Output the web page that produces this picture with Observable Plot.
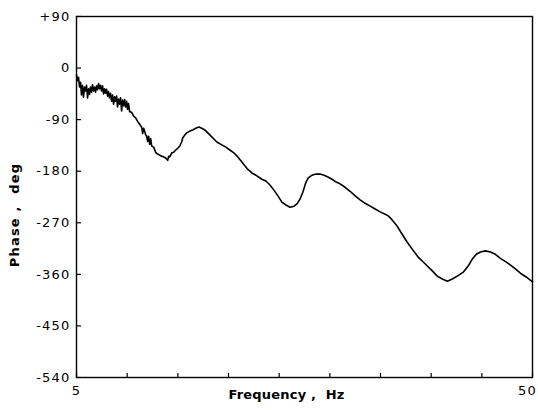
<!DOCTYPE html>
<html>
<head>
<meta charset="utf-8">
<script src="https://cdn.jsdelivr.net/npm/d3@7"></script>
<script src="https://cdn.jsdelivr.net/npm/@observablehq/plot@0.6"></script>
<style>
  html, body { margin: 0; padding: 0; background: #fff; }
  svg text { letter-spacing: 1.2px; }
  svg text.xt { letter-spacing: 0.2px; }
</style>
</head>
<body>
<div id="chart"></div>
<script>
const freqHz = [
  5.00,5.10,5.20,5.30,5.40,5.49,5.59,5.69,5.79,5.89,5.99,6.09,6.19,6.29,6.38,6.48,6.58,6.68,6.78,6.88,
  6.98,7.08,7.18,7.27,7.37,7.47,7.57,7.67,7.77,7.87,7.97,8.07,8.16,8.26,8.36,8.46,8.56,8.66,8.76,8.86,
  8.96,9.05,9.15,9.25,9.35,9.45,9.55,9.65,9.75,9.85,9.95,10.04,10.14,10.24,
  10.44,10.64,10.84,11.03,11.23,11.43,11.53,11.63,11.82,11.92,12.02,12.12,12.22,12.32,12.42,12.62,12.81,
  13.01,13.21,13.41,13.60,13.80,14.00,14.10,14.20,14.40,14.59,14.79,14.99,15.19,15.38,15.48,15.68,15.88,
  16.18,16.47,16.77,17.07,17.36,17.66,17.96,18.35,18.85,19.34,19.74,20.13,20.53,20.92,21.32,21.81,22.31,
  22.80,23.30,23.69,24.09,24.48,24.88,25.27,25.67,26.07,26.46,26.76,27.05,27.35,27.65,27.85,28.24,28.64,
  29.03,29.43,29.82,30.22,30.62,31.01,31.51,32.00,32.50,32.99,33.48,33.98,34.47,34.97,35.46,35.76,36.15,
  36.65,37.14,37.64,38.13,38.72,39.42,40.11,40.60,41.10,41.59,42.09,42.58,43.18,43.67,44.07,44.46,44.86,
  45.35,45.85,46.34,46.83,47.53,48.22,48.81,49.41,50.00
];
const phaseDeg = [
  -12,-22,-16,-33,-25,-47,-30,-51,-33,-40,-30,-52,-36,-46,-33,-42,-29,-40,-33,-42,
  -31,-38,-27,-36,-30,-40,-31,-45,-36,-44,-37,-49,-41,-52,-44,-58,-47,-63,-50,-58,
  -49,-68,-54,-63,-52,-75,-56,-66,-55,-68,-58,-72,-62,-76,
  -77,-84,-87,-93,-98,-103,-114,-105,-116,-119,-128,-119,-133,-123,-136,-138,-147,
  -150,-152,-154,-155,-157,-161,-154,-155,-148,-147,-143,-140,-136,-129,-122,-117,-113,
  -110,-108,-105,-103,-105,-108,-113,-120,-129,-134,-138,-143,-148,-155,-164,-175,-183,
  -188,-194,-197,-204,-213,-223,-234,-239,-243,-241,-237,-229,-216,-199,-192,-187,-185,
  -185,-187,-190,-194,-199,-202,-208,-215,-223,-230,-236,-241,-246,-251,-255,-258,-265,
  -276,-290,-304,-316,-330,-342,-354,-363,-368,-372,-368,-363,-356,-345,-333,-325,-321,
  -319,-321,-325,-332,-340,-349,-358,-365,-373
];
const xTicks = [5, 10, 15, 20, 25, 30, 35, 40, 45, 50];
const xTickLabelsLeft = [5];
const xTickLabelsRight = [50];
const yTicks = [90, 0, -90, -180, -270, -360, -450, -540];
const xTitle = "Frequency ,  Hz";
const yTitle = "Phase ,  deg";

const series = freqHz.map((f, i) => ({f, p: phaseDeg[i]}));
const fmtY = d => d > 0 ? "+" + d : (d < 0 ? "-" + Math.abs(d) : "0");

const chart = Plot.plot({
  width: 538,
  height: 410,
  marginLeft: 76,
  marginRight: 6,
  marginTop: 16,
  marginBottom: 33,
  style: {fontFamily: "'DejaVu Sans', sans-serif", fontSize: "13px", color: "black", background: "white", overflow: "visible"},
  x: {domain: [5, 50]},
  y: {domain: [-540, 90]},
  marks: [
    Plot.frame({stroke: "black", strokeWidth: 1.4}),
    Plot.axisY({ticks: yTicks, tickSize: -5, tickPadding: 11, tickFormat: fmtY, label: null, fontSize: 13, strokeWidth: 1.2}),
    Plot.axisX({ticks: xTicks, tickSize: -4, tickFormat: () => "", label: null, strokeWidth: 1.2}),
    Plot.text(xTickLabelsLeft, {x: d => d, frameAnchor: "bottom", lineAnchor: "middle", dy: 13, text: d => String(d), fontSize: 13}),
    Plot.text(xTickLabelsRight, {x: d => d, frameAnchor: "bottom", lineAnchor: "middle", dy: 13, dx: -5, text: d => String(d), fontSize: 13}),
    Plot.line(series, {x: "f", y: "p", stroke: "black", strokeWidth: 1.6, strokeLinejoin: "round", curve: "linear"}),
    Plot.text([xTitle], {frameAnchor: "bottom", textAnchor: "middle", lineAnchor: "middle", dx: -18, dy: 17, text: d => d, fontWeight: "bold", fontSize: 13, className: "xt"}),
    Plot.text([yTitle], {frameAnchor: "left", textAnchor: "middle", lineAnchor: "middle", dx: -62, dy: 18, rotate: -90, text: d => d, fontWeight: "bold", fontSize: 13})
  ]
});
chart.querySelectorAll("text").forEach(t => { if (t.textContent === xTitle) t.setAttribute("class", "xt"); });
document.getElementById("chart").append(chart);
</script>
</body>
</html>
